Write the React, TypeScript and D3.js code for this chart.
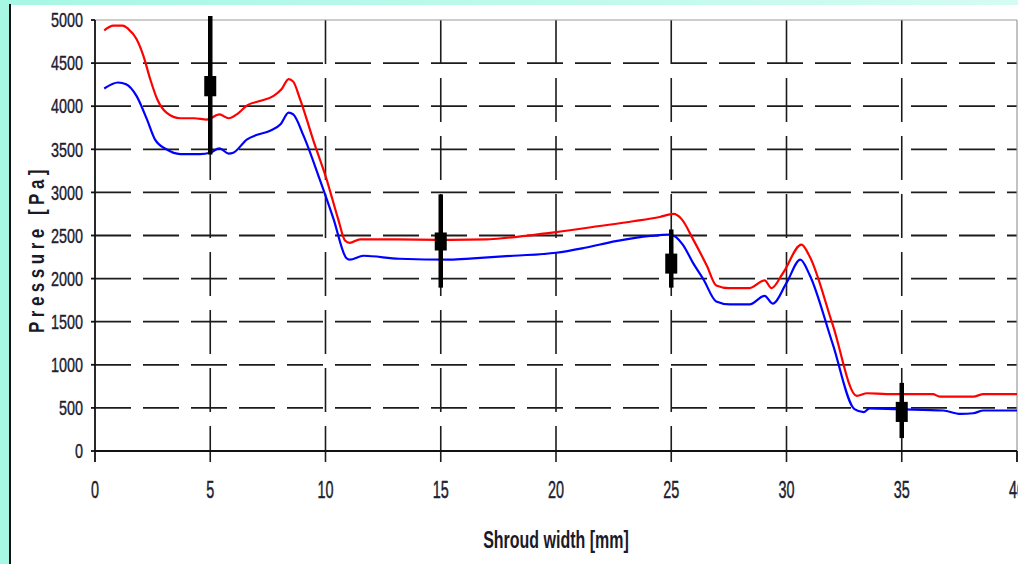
import * as d3 from 'd3';

// red curve (upper), blue curve (lower): [shroud width mm, pressure Pa]
const RED: [number, number][] = [
  [0.4, 4880], [0.8, 4935], [1.2, 4935], [1.45, 4895], [1.8, 4780], [2.1, 4585],
  [2.4, 4310], [2.7, 4080], [3.1, 3925], [3.7, 3860], [4.3, 3860], [4.85, 3845],
  [5.4, 3905], [5.8, 3860], [6.15, 3905], [6.6, 4010], [7.15, 4060], [7.75, 4120],
  [8.1, 4200], [8.4, 4315], [8.6, 4285], [8.9, 4080], [9.5, 3580], [10.05, 3150],
  [10.3, 2920], [10.55, 2690], [10.85, 2440], [11.05, 2415], [11.5, 2455], [13, 2455],
  [15, 2450], [17, 2455], [17.9, 2475], [20, 2540], [21.9, 2610], [23.35, 2665],
  [24.5, 2715], [25.1, 2750], [25.45, 2690], [25.95, 2455], [26.55, 2145], [26.95, 1920],
  [27.5, 1890], [28.4, 1890], [29.05, 1980], [29.35, 1890], [29.85, 2065], [30.65, 2395],
  [31, 2260], [32, 1470], [33.05, 640], [33.5, 670], [34.35, 660],
  [36.35, 660], [36.65, 630], [38.1, 630], [38.55, 660], [40, 660],
];

const BLUE: [number, number][] = [
  [0.4, 4205], [1.0, 4275], [1.35, 4255], [1.8, 4120], [2.25, 3850], [2.6, 3615],
  [3.1, 3500], [3.7, 3445], [4.55, 3445], [5.0, 3460], [5.4, 3510], [5.8, 3450],
  [6.0, 3460], [6.6, 3615], [7.0, 3665], [7.6, 3715], [8.05, 3790], [8.4, 3925],
  [8.6, 3905], [9.05, 3655], [9.75, 3150], [10.35, 2690], [10.9, 2240], [11.05, 2220],
  [11.65, 2265], [13.2, 2230], [15.4, 2220], [16.4, 2235], [18.15, 2265], [20, 2300],
  [21.2, 2355], [22.6, 2435], [24.1, 2495], [24.95, 2510], [25.5, 2395], [25.95, 2180],
  [26.4, 1990], [26.95, 1735], [27.55, 1700], [28.4, 1700], [29.05, 1800], [29.4, 1710],
  [30.0, 1950], [30.6, 2220], [31.0, 2045], [32, 1245], [32.95, 485], [33.35, 450],
  [33.6, 495], [34.8, 485], [36.8, 470], [37.55, 430], [38.1, 438], [38.55, 470], [40, 470],
];

// error bars: x, whisker low/high, box low/high
const BAR_X = [5, 15, 25, 35];
const BAR_LOW = [3440, 1895, 1895, 150];
const BAR_HIGH = [5045, 2977, 2570, 790];
const BOX_LOW = [4115, 2326, 2058, 337];
const BOX_HIGH = [4350, 2535, 2290, 570];

const X_TICKS = [0, 5, 10, 15, 20, 25, 30, 35, 40];
const Y_TICKS = [0, 500, 1000, 1500, 2000, 2500, 3000, 3500, 4000, 4500, 5000];

const W = 1018, H = 564;
const SANS = '"Liberation Sans", Arial, sans-serif';

export default function App() {
  const x = d3.scaleLinear().domain([0, 40]).range([95, 1017]);
  const y = d3.scaleLinear().domain([0, 5000]).range([451, 20]);
  const line = d3.line<[number, number]>()
    .x(d => x(d[0])).y(d => y(d[1]))
    .curve(d3.curveMonotoneX);

  const top = y(5000), bottom = y(0), left = x(0), right = x(40);

  return (
    <div style={{ position: 'absolute', left: 0, top: 0 }}>
      <svg width={W} height={H} style={{ display: 'block' }}>
        <defs>
          <linearGradient id="band" x1="0" x2="1" y1="0" y2="0">
            <stop offset="0" stopColor="#a6f7e4" />
            <stop offset="1" stopColor="#d4fcf3" />
          </linearGradient>
        </defs>
        <rect width={W} height={H} fill="#fff" />
        <rect width={W} height={5} fill="url(#band)" />
        <rect width={9} height={H} fill="#a6f7e4" />
        <line x1={10} x2={10} y1={4} y2={H} stroke="#111" strokeWidth={2} />

        {/* horizontal dashed grid */}
        {Y_TICKS.filter(v => v > 0 && v < 5000).map(v => (
          <line key={'h' + v} x1={left} x2={right} y1={y(v)} y2={y(v)}
            stroke="#1c1c1c" strokeWidth={1.8} strokeDasharray="36,12" />
        ))}
        {/* vertical dashed grid */}
        {X_TICKS.filter(v => v > 0 && v < 40).map(v => (
          <line key={'v' + v} x1={x(v)} x2={x(v)} y1={top} y2={bottom + 11}
            stroke="#1c1c1c" strokeWidth={1.6} strokeDasharray="44,14" />
        ))}

        {/* frame */}
        <line x1={left} x2={right} y1={top} y2={top} stroke="#9a9a9a" strokeWidth={1.2} />
        <line x1={right} x2={right} y1={top} y2={bottom} stroke="#9a9a9a" strokeWidth={1.2} />
        <line x1={left} x2={left} y1={top} y2={bottom + 11} stroke="#111" strokeWidth={1.8} />
        <line x1={left} x2={right} y1={bottom} y2={bottom} stroke="#111" strokeWidth={1.8} />
        <line x1={right} x2={right} y1={bottom} y2={bottom + 11} stroke="#111" strokeWidth={1.8} />
        {Y_TICKS.map(v => (
          <line key={'t' + v} x1={left - 4} x2={left} y1={y(v)} y2={y(v)} stroke="#111" strokeWidth={1.8} />
        ))}

        {/* curves */}
        <path d={line(RED) ?? ''} fill="none" stroke="#ff0000" strokeWidth={2.2} />
        <path d={line(BLUE) ?? ''} fill="none" stroke="#0000ff" strokeWidth={2.2} />

        {/* error bars */}
        {BAR_X.map((bx, i) => (
          <g key={'e' + bx}>
            <line x1={x(bx)} x2={x(bx)} y1={y(BAR_HIGH[i])} y2={y(BAR_LOW[i])} stroke="#000" strokeWidth={4.5} />
            <rect x={x(bx) - 6} width={12} y={y(BOX_HIGH[i])} height={y(BOX_LOW[i]) - y(BOX_HIGH[i])} fill="#000" />
          </g>
        ))}

        {/* tick labels */}
        {Y_TICKS.map(v => (
          <text key={'yl' + v} transform={`translate(83,${y(v)}) scale(0.8,1.12)`} textAnchor="end" dy="0.36em"
            fontFamily={SANS} fontSize={18} fill="#202030" stroke="#202030" strokeWidth={0.35}>{v}</text>
        ))}
        {X_TICKS.map(v => (
          <text key={'xl' + v} transform={`translate(${x(v)},490) scale(0.8,1.3)`} textAnchor="middle" dy="0.36em"
            fontFamily={SANS} fontSize={18} fill="#202030" stroke="#202030" strokeWidth={0.35}>{v}</text>
        ))}

        {/* axis titles */}
        <text transform="translate(556,548) scale(0.8,1.2)" textAnchor="middle"
          fontFamily={SANS} fontWeight="bold" fontSize={20} fill="#1a1a28">Shroud width [mm]</text>
        <text transform="translate(44,249) rotate(-90) scale(1,1.25)" textAnchor="middle"
          fontFamily={SANS} fontWeight="bold" fontSize={17}
          letterSpacing={4.5} fill="#1a1a28">Pressure [Pa]</text>
      </svg>
    </div>
  );
}
